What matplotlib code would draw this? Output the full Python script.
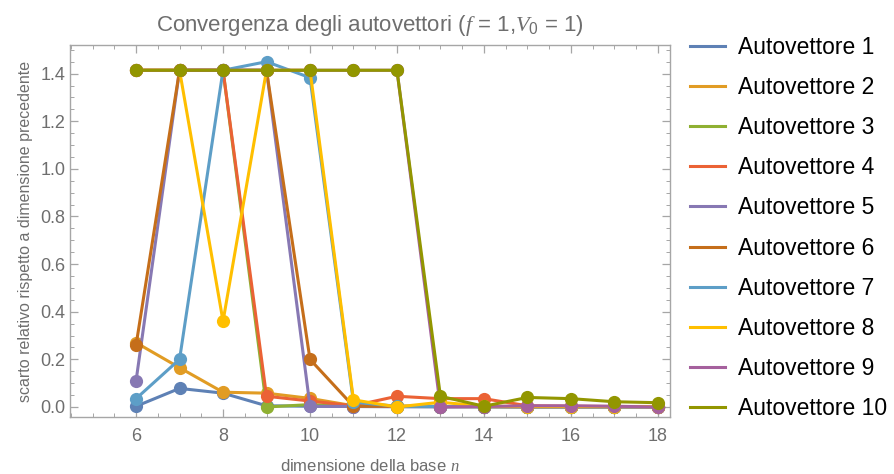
import matplotlib
matplotlib.use("Agg")
import matplotlib.pyplot as plt
from matplotlib.lines import Line2D
from matplotlib.ticker import MultipleLocator, FormatStrFormatter

plt.rcParams['font.family'] = ['Liberation Sans', 'DejaVu Sans']
plt.rcParams['mathtext.fontset'] = 'custom'
plt.rcParams['mathtext.it'] = 'Liberation Serif:italic'
plt.rcParams['mathtext.rm'] = 'Liberation Sans'

# dimension of the basis
n_values = [6, 7, 8, 9, 10, 11, 12, 13, 14, 15, 16, 17, 18]

# relative difference w.r.t. previous dimension, one list per eigenvector
autovettore_1 = [0.003, 0.078, 0.058, 0.005, 0.003, 0.002, 0.001, 0.001, 0.001, 0.001, 0.001, 0.001, 0.001]
autovettore_2 = [0.27, 0.165, 0.062, 0.058, 0.036, 0.005, 0.003, 0.002, 0.002, 0.001, 0.001, 0.001, 0.001]
autovettore_3 = [1.414, 1.414, 1.414, 0.0, 0.01, 0.004, 0.002, 0.002, 0.001, 0.001, 0.001, 0.001, 0.001]
autovettore_4 = [1.414, 1.414, 1.414, 0.045, 0.025, 0.005, 0.045, 0.035, 0.035, 0.005, 0.003, 0.002, 0.002]
autovettore_5 = [0.11, 1.414, 1.414, 1.414, 0.003, 0.002, 0.002, 0.001, 0.001, 0.001, 0.001, 0.001, 0.001]
autovettore_6 = [0.26, 1.414, 1.414, 1.414, 0.2, 0.003, 0.003, 0.002, 0.002, 0.001, 0.001, 0.001, 0.001]
autovettore_7 = [0.035, 0.2, 1.414, 1.45, 1.383, 0.02, 0.003, 0.002, 0.002, 0.001, 0.001, 0.001, 0.001]
autovettore_8 = [1.414, 1.414, 0.36, 1.414, 1.414, 0.03, 0.0, 0.02, 0.003, 0.002, 0.002, 0.002, 0.002]
autovettore_9 = [1.414, 1.414, 1.414, 1.414, 1.414, 1.414, 1.414, 0.0, 0.002, 0.005, 0.005, 0.003, 0.0]
autovettore_10 = [1.414, 1.414, 1.414, 1.414, 1.414, 1.414, 1.414, 0.045, 0.003, 0.04, 0.035, 0.022, 0.018]

series = [autovettore_1, autovettore_2, autovettore_3, autovettore_4, autovettore_5,
          autovettore_6, autovettore_7, autovettore_8, autovettore_9, autovettore_10]
labels = ["Autovettore %d" % (i + 1) for i in range(10)]

# Mathematica default palette
colors = ['#5E81B5', '#E19C24', '#8FB032', '#EB6235', '#8778B3',
          '#C56E1A', '#5D9EC7', '#FFBF00', '#A5609D', '#929600']

frame_col = '#a6a6a6'
text_col = '#6e6e6e'

fig = plt.figure(figsize=(8.95, 4.74), dpi=100)
ax = fig.add_axes([0.0782, 0.1203, 0.6704, 0.7847])

for i, (vals, col) in enumerate(zip(series, colors)):
    ax.plot(n_values, vals, color=col, lw=2.2, marker='o', markersize=9.5,
            markeredgewidth=0, zorder=2 + i)

ax.set_xlim(4.48, 18.28)
ax.set_ylim(-0.042, 1.52)
ax.xaxis.set_major_locator(MultipleLocator(2))
ax.xaxis.set_minor_locator(MultipleLocator(0.5))
ax.yaxis.set_major_locator(MultipleLocator(0.2))
ax.yaxis.set_minor_locator(MultipleLocator(0.05))
ax.yaxis.set_major_formatter(FormatStrFormatter('%.1f'))

for sp in ax.spines.values():
    sp.set_color(frame_col)
    sp.set_linewidth(1.0)
ax.tick_params(which='both', direction='in', top=True, right=True, color=frame_col,
               labelcolor=text_col, labelsize=13)
ax.tick_params(which='major', length=6, width=0.9)
ax.tick_params(which='minor', length=3, width=0.7)
ax.tick_params(axis='x', pad=8)

ax.set_title(r"Convergenza degli autovettori ($f$ = 1,$V_0$ = 1)",
             color=text_col, fontsize=16, pad=10)
ax.set_xlabel(r"dimensione della base $n$", color=text_col, fontsize=12, labelpad=9)
ax.set_ylabel("scarto relativo rispetto a dimensione precedente", color=text_col,
              fontsize=11.5, labelpad=5)

handles = [Line2D([0], [0], color=c, lw=2.2) for c in colors]
fig.legend(handles, labels, loc='upper left', bbox_to_anchor=(0.761, 0.944),
           frameon=False, fontsize=16.5, handlelength=1.53, handletextpad=0.57,
           labelspacing=0.75, borderaxespad=0)

fig.savefig("out.png", dpi=100, facecolor='white')
